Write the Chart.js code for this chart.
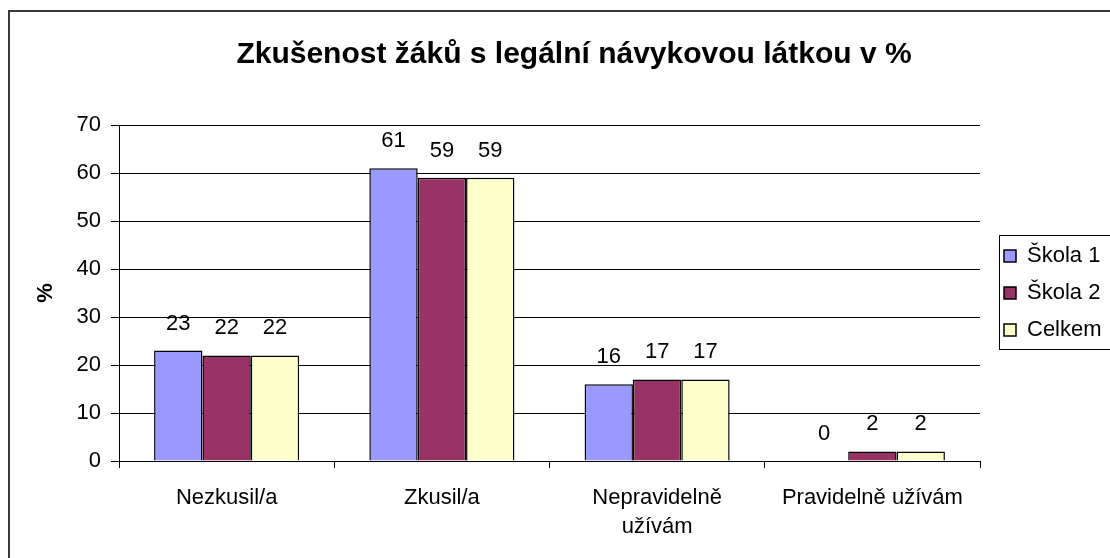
<!DOCTYPE html>
<html>
<head>
<meta charset="utf-8">
<script src="https://cdn.jsdelivr.net/npm/chart.js@4/dist/chart.umd.min.js"></script>
<style>
  html, body { margin: 0; padding: 0; background: #fff; overflow: hidden; }
  #frame { position: absolute; left: 8px; top: 10px; width: 1300px; height: 800px; border: 2px solid #3a3a3a; }
  #chart { position: absolute; left: 0; top: 0; }
</style>
</head>
<body>
<div id="frame"></div>
<canvas id="chart" width="1110" height="558"></canvas>
<script>
// categories and values (in %)
var categories = ['Nezkusil/a', 'Zkusil/a', ['Nepravidelně', 'užívám'], 'Pravidelně užívám'];
var seriesNames = ['Škola 1', 'Škola 2', 'Celkem'];
var skola1 = [23, 61, 16, 0];
var skola2 = [22, 59, 17, 2];
var celkem = [22, 59, 17, 2];
var yMin = 0, yMax = 70, yStep = 10;

var FONT = 'Arial, "Liberation Sans", sans-serif';

// numbers above each bar
var valueLabels = {
    id: 'valueLabels',
    afterDatasetsDraw: function (chart) {
        var ctx = chart.ctx;
        ctx.save();
        ctx.font = '22px ' + FONT;
        ctx.fillStyle = '#000';
        ctx.textAlign = 'center';
        ctx.textBaseline = 'middle';
        chart.data.datasets.forEach(function (ds, i) {
            chart.getDatasetMeta(i).data.forEach(function (bar, j) {
                ctx.fillText(ds.data[j], bar.x, bar.y - 27);
            });
        });
        ctx.restore();
    }
};

// legend: fixed width on the right, framed like the Excel one
var legendBox = {
    id: 'legendBox',
    afterInit: function (chart) {
        var legend = chart.legend;
        var fit = legend.fit;
        legend.fit = function () {
            fit.call(this);
            if (this.options.display) this.width = 130;
        };
    },
    afterLayout: function (chart) {
        chart.legend.left += 9;
        chart.legend.right += 9;
        chart.legend.top += 14;
        chart.legend.bottom += 14;
    },
    afterDraw: function (chart) {
        var hb = chart.legend.legendHitBoxes;
        if (!hb || !hb.length) return;
        var last = hb[hb.length - 1];
        var top = Math.round(hb[0].top - 10) + 0.5;
        var bottom = Math.round(last.top + last.height + 8) + 0.5;
        var left = Math.round(hb[0].left - 5) + 0.5;
        var ctx = chart.ctx;
        ctx.save();
        ctx.strokeStyle = '#000';
        ctx.lineWidth = 1;
        ctx.strokeRect(left, top, 300, bottom - top);
        ctx.restore();
    }
};

var ctx = document.getElementById('chart').getContext('2d');
new Chart(ctx, {
    type: 'bar',
    data: {
        labels: categories,
        datasets: [{
            label: seriesNames[0],
            data: skola1,
            backgroundColor: '#9999FF',
            borderColor: '#000',
            borderWidth: 1.5
        }, {
            label: seriesNames[1],
            data: skola2,
            backgroundColor: '#993366',
            borderColor: '#000',
            borderWidth: 1.5
        }, {
            label: seriesNames[2],
            data: celkem,
            backgroundColor: '#FFFFCC',
            borderColor: '#000',
            borderWidth: 1.5
        }]
    },
    plugins: [valueLabels, legendBox],
    options: {
        responsive: false,
        animation: false,
        barPercentage: 1,
        categoryPercentage: 0.674,
        layout: { padding: { left: 38, right: 0, top: 0, bottom: 0 } },
        plugins: {
            title: {
                display: true,
                text: 'Zkušenost žáků s legální návykovou látkou v %',
                color: '#000',
                font: { family: FONT, size: 30, weight: 'bold' },
                padding: { top: 37, bottom: 52 }
            },
            legend: {
                position: 'right',
                labels: {
                    color: '#000',
                    font: { family: FONT, size: 22 },
                    boxWidth: 12,
                    boxHeight: 12,
                    padding: 15
                }
            },
            tooltip: { enabled: false }
        },
        scales: {
            x: {
                grid: {
                    offset: true,
                    drawOnChartArea: false,
                    drawTicks: true,
                    tickLength: 7,
                    tickColor: '#000'
                },
                border: { color: '#000', width: 1 },
                ticks: {
                    color: '#000',
                    font: { family: FONT, size: 22, lineHeight: 1.3 },
                    padding: 16,
                    maxRotation: 0,
                    autoSkip: false
                },
                afterFit: function (scale) { scale.height = 97; }
            },
            y: {
                min: yMin,
                max: yMax,
                grid: {
                    color: '#000',
                    lineWidth: 1,
                    tickLength: 8,
                    tickColor: '#000'
                },
                border: { color: '#000', width: 1 },
                ticks: {
                    stepSize: yStep,
                    color: '#000',
                    font: { family: FONT, size: 22 },
                    padding: 10
                },
                title: {
                    display: true,
                    text: '%',
                    color: '#000',
                    font: { family: FONT, size: 22, weight: 'bold' },
                    padding: { top: -5, bottom: 0 }
                },
                afterFit: function (scale) { scale.width = 81; }
            }
        }
    }
});
</script>
</body>
</html>
